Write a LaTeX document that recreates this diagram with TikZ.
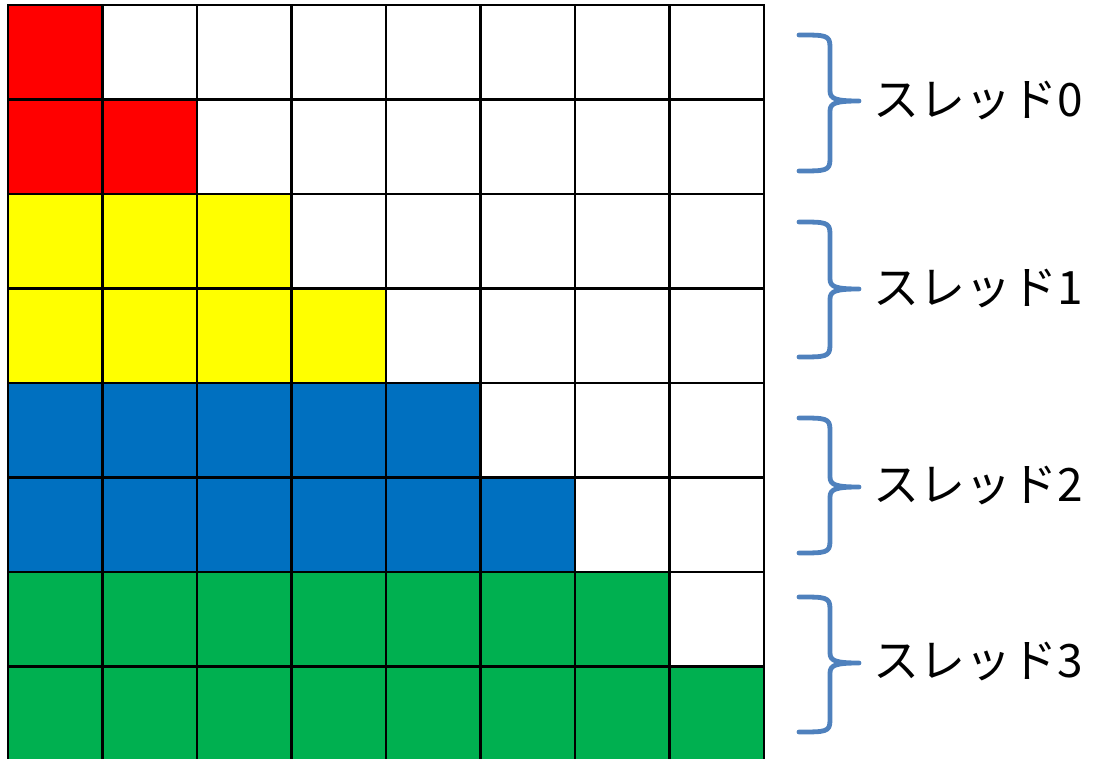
\documentclass[tikz,border=0pt]{standalone}
\usepackage{fontspec}
\newfontfamily\jpfont{Noto Sans CJK JP}
\definecolor{cred}{HTML}{FF0000}
\definecolor{cyellow}{HTML}{FFFF00}
\definecolor{cblue}{HTML}{0070C0}
\definecolor{cgreen}{HTML}{00B050}
\definecolor{bracecol}{HTML}{4F81BD}
\begin{document}
\begin{tikzpicture}[x=0.75pt,y=-0.75pt,
cell/.style={draw=black,line width=2pt},
brace/.style={draw=bracecol,line width=3.6pt,line cap=round,line join=round},
lbl/.style={font=\jpfont\fontsize{34.5pt}{38pt}\selectfont,anchor=west,inner sep=0pt}]
\useasboundingbox (0,0) rectangle (1097,759);
% grid: row, number of coloured cells, colour
\foreach \r/\n/\c in {0/1/cred,1/2/cred,2/3/cyellow,3/4/cyellow,
                      4/5/cblue,5/6/cblue,6/7/cgreen,7/8/cgreen}{
  \foreach \k in {1,...,8}{
    \pgfmathsetmacro{\x}{8+(\k-1)*94.5}
    \pgfmathsetmacro{\y}{5+\r*94.5}
    \ifnum\k>\n
      \path[cell,fill=white] (\x,\y) rectangle ++(94.5,94.5);
    \else
      \path[cell,fill=\c] (\x,\y) rectangle ++(94.5,94.5);
    \fi
  }
}
% labels
\node[lbl] (thr0) at (873,101) {スレッド0};
\node[lbl] (thr1) at (873,289) {スレッド1};
\node[lbl] (thr2) at (873,486) {スレッド2};
\node[lbl] (thr3) at (873,662) {スレッド3};
% braces
\foreach \t/\m/\b in {35/101/171,222/289/357,418/487/553,597/663/732}{
  \draw[brace] (799,\t) .. controls (826,\t) and (830,\t) .. (830,\t+12)
    -- (830,\m-10) .. controls (830,\m-2) and (836,\m) .. (859,\m)
    (859,\m) .. controls (836,\m) and (830,\m+2) .. (830,\m+10)
    -- (830,\b-12) .. controls (830,\b) and (826,\b) .. (799,\b);
}
\end{tikzpicture}
\end{document}
